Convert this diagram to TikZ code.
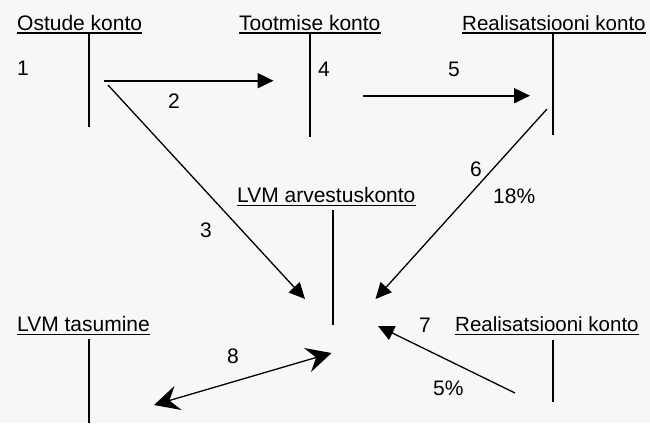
\documentclass[tikz,border=0pt]{standalone}
\usepackage{fontspec}
\setmainfont{Liberation Sans}
\usetikzlibrary{arrows.meta}
\begin{document}
\begin{tikzpicture}[x=1pt,y=-1pt,
  lbl/.style={inner sep=0pt,anchor=base west,font=\fontsize{21}{24}\selectfont},
  lblr/.style={lbl,font=\fontsize{20.5}{24}\selectfont},
  uline/.style={line width=1.3pt},
  tbar/.style={line width=2pt},
  thickarrow/.style={line width=2pt,-{Triangle[length=16pt,width=15pt]}},
  thinarrow/.style={line width=1.3pt,-{Triangle[length=16pt,width=15pt]}},
  dblarrow/.style={line width=1.3pt,{Stealth[length=25pt,width=25pt,inset=9pt]}-{Stealth[length=25pt,width=25pt,inset=9pt]}}]
\fill[white!97!black] (0,0) rectangle (650,423);
\useasboundingbox (0,0) rectangle (650,423);
% account titles
\node[lbl] (ost) at (17,30.5) {Ostude konto};
\node[lbl] (too) at (239,30.5) {Tootmise konto};
\node[lblr] (rea) at (462,30.5) {Realisatsiooni konto};
\node[lbl] (lvm) at (237,202.7) {LVM arvestuskonto};
\node[lbl] (tas) at (17,331.7) {LVM tasumine};
\node[lblr] (reb) at (455,331.7) {Realisatsiooni konto};
\foreach \n in {ost,too,rea,lvm,tas,reb}
  \draw[uline] ([yshift=-2.6pt]\n.base west) -- ([yshift=-2.6pt]\n.base east);
% T-bars
\coordinate (ostT) at (89.3,33); \coordinate (ostB) at (89.3,127);
\coordinate (tooT) at (310,33); \coordinate (tooB) at (310,137);
\coordinate (reaT) at (553,33); \coordinate (reaB) at (553,135);
\coordinate (lvmT) at (333,210); \coordinate (lvmB) at (333,325);
\coordinate (tasT) at (89.3,339); \coordinate (tasB) at (89.3,423);
\coordinate (rebT) at (553,340); \coordinate (rebB) at (553,402);
\draw[tbar] (ostT) -- (ostB);
\draw[tbar] (tooT) -- (tooB);
\draw[tbar] (reaT) -- (reaB);
\draw[tbar] (lvmT) -- (lvmB);
\draw[tbar] (tasT) -- (tasB);
\draw[tbar] (rebT) -- (rebB);
% numbers
\node[lbl] (n1) at (17,75.5) {1};
\node[lbl] (n2) at (168,108) {2};
\node[lbl] (n3) at (200,237) {3};
\node[lbl] (n4) at (318,76) {4};
\node[lbl] (n5) at (448,76) {5};
\node[lbl] (n6) at (470,176) {6};
\node[lbl] (p18) at (493,203) {18\%};
\node[lbl] (n7) at (419,332) {7};
\node[lbl] (n8) at (227,363) {8};
\node[lbl] (p5) at (433,395) {5\%};
% arrows
\coordinate (a2s) at (104,80.7); \coordinate (a2e) at (273.5,80.7);
\coordinate (a3s) at (108,85); \coordinate (a3e) at (305,299);
\coordinate (a5s) at (363,95.7); \coordinate (a5e) at (530,95.7);
\coordinate (a6s) at (547,109); \coordinate (a6e) at (375.5,299);
\coordinate (a7s) at (515,393); \coordinate (a7e) at (378,326);
\coordinate (a8s) at (154,405); \coordinate (a8e) at (331.5,353);
\draw[thickarrow] (a2s) -- (a2e);
\draw[thinarrow] (a3s) -- (a3e);
\draw[thickarrow] (a5s) -- (a5e);
\draw[thinarrow] (a6s) -- (a6e);
\draw[thinarrow] (a7s) -- (a7e);
\draw[dblarrow] (a8s) -- (a8e);
\end{tikzpicture}
\end{document}
